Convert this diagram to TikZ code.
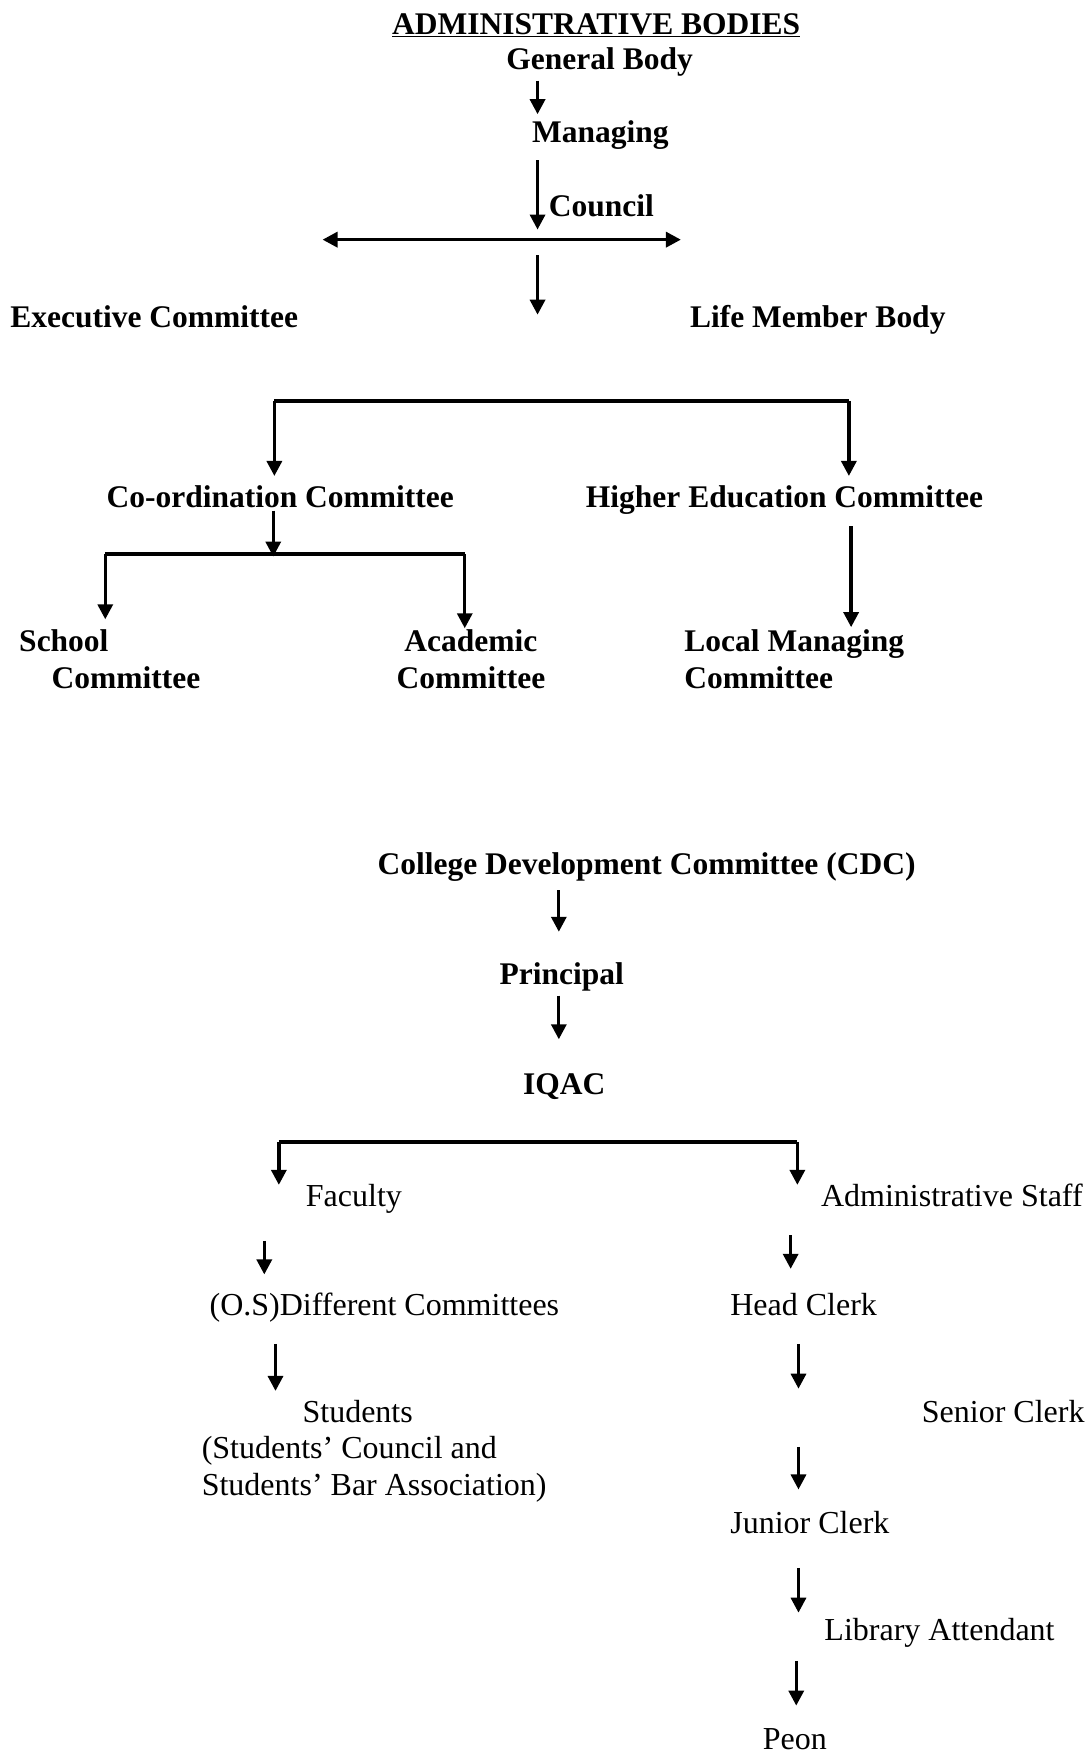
\documentclass[tikz,border=0pt]{standalone}
\usepackage{fontspec}
\setmainfont{Liberation Serif}
\usetikzlibrary{arrows.meta}
\tikzset{
  bt/.style={anchor=base west, inner sep=0pt, font=\fontsize{31.5}{36}\selectfont\bfseries},
  rt/.style={anchor=base west, inner sep=0pt, font=\fontsize{32}{36}\selectfont},
  arr/.style={line width=3.3pt, -{Triangle[width=15pt,length=15pt]}},
  dbl/.style={line width=3.5pt, {Triangle[width=15pt,length=15pt]}-{Triangle[width=15pt,length=15pt]}},
  barline/.style={line width=4pt},
  drop/.style={line width=3.3pt, -{Triangle[width=15pt,length=15pt]}},
}
\begin{document}
\begin{tikzpicture}[x=1.12pt,y=-1.12pt]
\useasboundingbox (0,0) rectangle (975,1568);
% ---- top: administrative bodies ----
\node[bt] (title) at (350,31) {\underline{ADMINISTRATIVE BODIES}};
\node[bt] (gb) at (452,62) {General Body};
\node[bt] (mg) at (475,127) {Managing};
\node[bt] (co) at (490,193) {Council};
\node[bt] (ex) at (9,292) {Executive Committee};
\node[bt] (lm) at (616,292) {Life Member Body};
\node[bt] (cc) at (95,453) {Co-ordination Committee};
\node[bt] (he) at (523,453) {Higher Education Committee};
\node[bt] (sch1) at (17,582) {School};
\node[bt] (sch2) at (46,615) {Committee};
\node[bt] (acd1) at (361,582) {Academic};
\node[bt] (acd2) at (354,615) {Committee};
\node[bt] (lmc1) at (611,582) {Local Managing};
\node[bt] (lmc2) at (611,615) {Committee};
% coordinates for connectors
\coordinate (a1s) at (480,72);  \coordinate (a1e) at (480,102);
\coordinate (a2s) at (480,143); \coordinate (a2e) at (480,205);
\coordinate (dl) at (288,214);  \coordinate (dr) at (608,214);
\coordinate (a3s) at (480,228); \coordinate (a3e) at (480,281);
\coordinate (b1l) at (245,358); \coordinate (b1r) at (758,358);
\coordinate (b1le) at (245,425); \coordinate (b1re) at (758,425);
\coordinate (a4s) at (244,456); \coordinate (a4e) at (244,497);
\coordinate (b2l) at (94,495);  \coordinate (b2r) at (415,495);
\coordinate (b2le) at (94,553); \coordinate (b2re) at (415,561);
\coordinate (a5s) at (760,470); \coordinate (a5e) at (760,560);
\draw[arr] (a1s) -- (a1e);
\draw[arr] (a2s) -- (a2e);
\draw[dbl] (dl) -- (dr);
\draw[arr] (a3s) -- (a3e);
\draw[barline] (b1l) -- (b1r);
\draw[drop] (b1l) -- (b1le);
\draw[drop] (b1r) -- (b1re);
\draw[drop] (a4s) -- (a4e);
\draw[barline] (b2l) -- (b2r);
\draw[drop] (b2l) -- (b2le);
\draw[drop] (b2r) -- (b2re);
\draw[drop] (a5s) -- (a5e);
% ---- bottom: college ----
\node[bt] (cdc) at (337,781) {College Development Committee (CDC)};
\node[bt] (pr) at (446,879) {Principal};
\node[bt] (iq) at (467,977) {IQAC};
\node[rt] (fa) at (273,1077) {Faculty};
\node[rt] (ast) at (733,1077) {Administrative Staff};
\node[rt] (dc) at (187,1175) {(O.S)Different Committees};
\node[rt] (st1) at (270,1270) {Students};
\node[rt] (st2) at (180,1302) {(Students’ Council and};
\node[rt] (st3) at (180,1335) {Students’ Bar Association)};
\node[rt] (hc) at (652,1175) {Head Clerk};
\node[rt] (sr) at (823,1270) {Senior Clerk};
\node[rt] (jc) at (652,1369) {Junior Clerk};
\node[rt] (la) at (736,1465) {Library Attendant};
\node[rt] (pe) at (681,1562) {Peon};
\coordinate (a6s) at (499,795);  \coordinate (a6e) at (499,832);
\coordinate (a7s) at (499,889);  \coordinate (a7e) at (499,928);
\coordinate (b3l) at (249,1020); \coordinate (b3r) at (712,1020);
\coordinate (b3le) at (249,1058); \coordinate (b3re) at (712,1058);
\coordinate (a8s) at (236,1108); \coordinate (a8e) at (236,1138);
\coordinate (a9s) at (246,1200); \coordinate (a9e) at (246,1242);
\coordinate (a10s) at (706,1103); \coordinate (a10e) at (706,1133);
\coordinate (a11s) at (713,1200); \coordinate (a11e) at (713,1240);
\coordinate (a12s) at (713,1292); \coordinate (a12e) at (713,1330);
\coordinate (a13s) at (713,1400); \coordinate (a13e) at (713,1440);
\coordinate (a14s) at (711,1483); \coordinate (a14e) at (711,1523);
\draw[arr] (a6s) -- (a6e);
\draw[arr] (a7s) -- (a7e);
\draw[barline] (b3l) -- (b3r);
\draw[drop] (b3l) -- (b3le);
\draw[drop] (b3r) -- (b3re);
\draw[arr] (a8s) -- (a8e);
\draw[arr] (a9s) -- (a9e);
\draw[arr] (a10s) -- (a10e);
\draw[arr] (a11s) -- (a11e);
\draw[arr] (a12s) -- (a12e);
\draw[arr] (a13s) -- (a13e);
\draw[arr] (a14s) -- (a14e);
\end{tikzpicture}
\end{document}
